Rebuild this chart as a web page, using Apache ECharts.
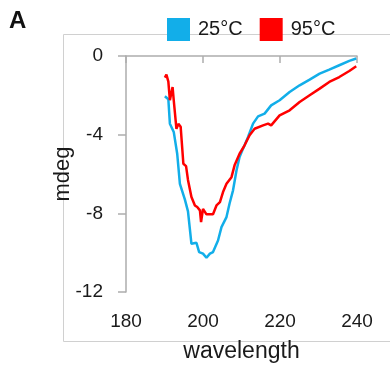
<!DOCTYPE html>
<html>
<head>
<meta charset="utf-8">
<script src="https://cdn.jsdelivr.net/npm/echarts@6/dist/echarts.min.js"></script>
<style>
html,body{margin:0;padding:0;background:#fff;}
#main{width:390px;height:369px;}
</style>
</head>
<body>
<div id="main"></div>
<script>
var seriesNames = ['25°C', '95°C'];
var xTicks = [180, 200, 220, 240];
var yTicks = [0, -4, -8, -12];

var wl25 = [190.1, 191.0, 191.4, 192.4, 193.3, 194.0, 195.3, 196.1, 197.0, 198.3, 199.0, 200.0, 200.9, 201.8, 202.6, 203.9, 204.8, 206.1, 206.9, 207.8, 208.7, 209.5, 210.4, 211.7, 213.0, 214.3, 216.0, 217.7, 219.9, 222.5, 225.1, 227.7, 230.3, 232.8, 235.4, 238.0, 239.8];
var mdeg25 = [-2.05, -2.2, -3.44, -3.86, -4.97, -6.5, -7.3, -7.9, -9.55, -9.5, -9.97, -10.05, -10.26, -10.05, -9.97, -9.38, -8.7, -8.19, -7.5, -6.83, -5.82, -5.14, -4.71, -4.12, -3.44, -3.07, -2.93, -2.51, -2.25, -1.83, -1.49, -1.2, -0.9, -0.69, -0.47, -0.25, -0.13];

var wl95 = [190.1, 190.5, 191.0, 191.4, 192.1, 192.4, 193.1, 193.6, 194.2, 194.9, 195.6, 196.1, 197.0, 197.9, 198.5, 199.2, 199.5, 200.0, 200.9, 202.6, 203.5, 204.4, 205.2, 206.1, 207.4, 208.2, 209.5, 210.8, 212.1, 213.4, 215.6, 216.9, 217.7, 219.9, 222.5, 225.1, 227.7, 230.3, 232.8, 235.4, 238.0, 239.8];
var mdeg95 = [-1.1, -0.95, -1.3, -2.25, -1.58, -2.25, -3.7, -3.45, -3.6, -5.48, -5.6, -6.3, -7.17, -7.6, -7.68, -7.85, -8.45, -7.77, -8.05, -8.05, -7.6, -7.43, -6.92, -6.5, -6.16, -5.56, -4.97, -4.54, -4.03, -3.7, -3.53, -3.44, -3.53, -3.02, -2.76, -2.34, -2.0, -1.66, -1.32, -1.07, -0.76, -0.52];

function pairs(xs, ys) {
  var out = [];
  for (var i = 0; i < xs.length; i++) out.push([xs[i], ys[i]]);
  return out;
}

var FONT = 'Liberation Sans, Arial, Helvetica, sans-serif';
var chart = echarts.init(document.getElementById('main'), null, {renderer: 'canvas'});
var axisColor = '#adadad';

chart.setOption({
  animation: false,
  backgroundColor: '#ffffff',
  textStyle: {fontFamily: FONT},
  graphic: [
    {
      type: 'rect', z: 0, silent: true,
      shape: {x: 63.5, y: 34.5, width: 400, height: 307},
      style: {fill: 'none', stroke: '#d0d0d0', lineWidth: 1}
    },
    {
      type: 'text', left: 9, top: 9, z: 10,
      style: {text: 'A', font: 'bold 24px ' + FONT, fill: '#111'}
    }
  ],
  legend: {
    left: 167, top: 18, padding: 0,
    itemWidth: 23, itemHeight: 23, itemGap: 17,
    icon: 'rect',
    data: seriesNames,
    textStyle: {fontSize: 20, color: '#1a1a1a', fontFamily: FONT, padding: [0, 0, 0, 3]}
  },
  grid: {left: 126, right: 33, top: 56, bottom: 77, containLabel: false},
  xAxis: {
    type: 'value', min: xTicks[0], max: xTicks[xTicks.length - 1], interval: 20,
    name: 'wavelength', nameLocation: 'middle', nameGap: 48, nameMoveOverlap: false,
    nameTextStyle: {fontSize: 23, color: '#1a1a1a', fontFamily: FONT},
    axisLine: {show: true, lineStyle: {color: axisColor, width: 1.5}},
    axisTick: {show: true, length: 7, lineStyle: {color: axisColor, width: 1.5}},
    axisLabel: {fontSize: 19, color: '#1a1a1a', margin: 20, fontFamily: FONT},
    splitLine: {show: false}
  },
  yAxis: {
    type: 'value', min: yTicks[yTicks.length - 1], max: yTicks[0], interval: 4,
    name: 'mdeg', nameLocation: 'middle', nameGap: 52, nameRotate: 90, nameMoveOverlap: false,
    nameTextStyle: {fontSize: 22, color: '#1a1a1a', fontFamily: FONT},
    axisLine: {show: true, lineStyle: {color: axisColor, width: 1.5}},
    axisTick: {show: true, length: 8, lineStyle: {color: axisColor, width: 1.5}},
    axisLabel: {fontSize: 19, color: '#1a1a1a', margin: 23, fontFamily: FONT},
    splitLine: {show: false}
  },
  series: [
    {
      name: seriesNames[0], type: 'line', showSymbol: false, symbol: 'none',
      data: pairs(wl25, mdeg25),
      lineStyle: {color: '#12aee9', width: 2.5},
      itemStyle: {color: '#12aee9'}
    },
    {
      name: seriesNames[1], type: 'line', showSymbol: false, symbol: 'none',
      data: pairs(wl95, mdeg95),
      lineStyle: {color: '#ff0000', width: 2.5},
      itemStyle: {color: '#ff0000'}
    }
  ]
});
</script>
</body>
</html>
